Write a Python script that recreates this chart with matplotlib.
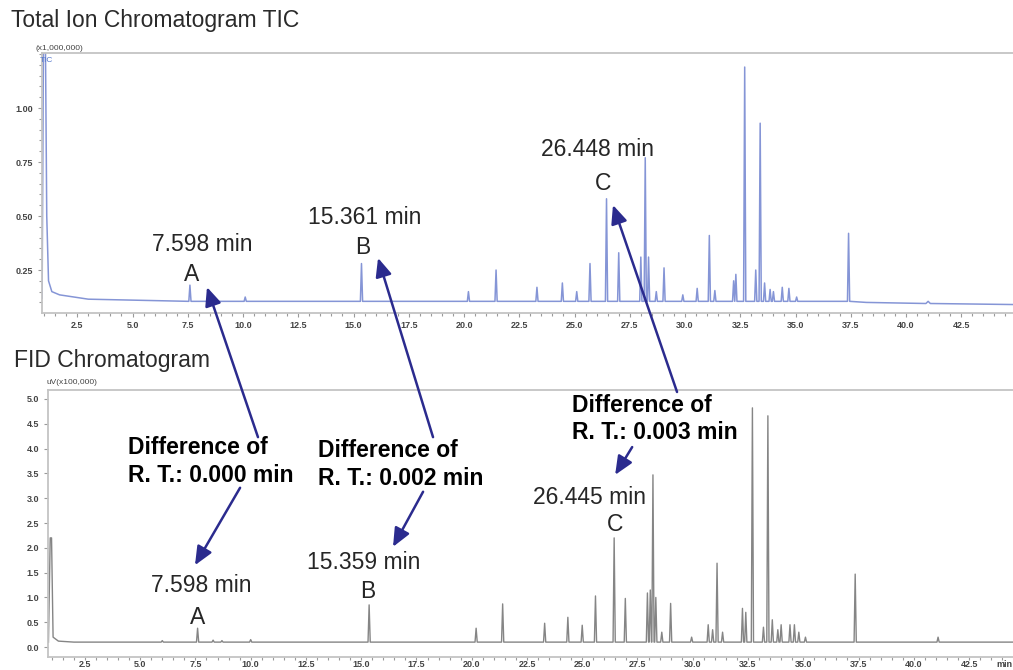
import matplotlib.pyplot as plt
from matplotlib.patches import ConnectionPatch
from matplotlib.ticker import MultipleLocator, FormatStrFormatter

plt.rcParams['font.family'] = ['Liberation Sans', 'DejaVu Sans']

# TIC trace (x1,000,000)
tic_head_t = [0.91, 0.97, 1.06, 1.12, 1.2, 1.35, 1.7, 3.0]
tic_head_v = [0.12, 1.30, 1.30, 0.50, 0.20, 0.15, 0.135, 0.115]
tic_rt = [7.598, 10.1, 15.361, 20.2, 21.45, 23.3, 24.45, 25.1, 25.7, 26.448,
          27.0, 28.0, 28.2, 28.35, 28.7, 29.05, 29.9, 30.55, 31.1, 31.35,
          32.2, 32.3, 32.7, 33.2, 33.4, 33.6, 33.85, 34.0, 34.4, 34.7, 35.05,
          37.4]
tic_h = [0.18, 0.125, 0.28, 0.15, 0.25, 0.17, 0.19, 0.15, 0.28, 0.58,
         0.33, 0.31, 0.77, 0.31, 0.15, 0.26, 0.135, 0.165, 0.41, 0.155,
         0.20, 0.23, 1.19, 0.25, 0.93, 0.19, 0.16, 0.15, 0.17, 0.165, 0.125,
         0.42]
tic_base = 0.105
tic_tail_t = [38.2, 40.9, 41.0, 41.1, 45.0]
tic_tail_v = [0.10, 0.095, 0.105, 0.095, 0.09]

# FID trace (uV x100,000)
fid_head_t = [0.85, 0.93, 0.99, 1.06, 1.3, 2.0]
fid_head_v = [0.10, 2.20, 2.20, 0.20, 0.12, 0.10]
fid_rt = [6.0, 7.598, 8.3, 8.7, 10.0, 15.359, 20.2, 21.4, 23.3, 24.35, 25.0,
          25.6, 26.445, 26.95, 27.95, 28.08, 28.2, 28.33, 28.6, 29.0, 29.95,
          30.7, 30.9, 31.1, 31.35, 32.25, 32.4, 32.7, 33.2, 33.4, 33.6, 33.85,
          34.0, 34.4, 34.6, 34.8, 35.1, 37.35, 41.1]
fid_h = [0.13, 0.38, 0.14, 0.13, 0.15, 0.85, 0.38, 0.87, 0.48, 0.60, 0.44,
         1.03, 2.20, 0.98, 1.09, 1.15, 3.47, 1.00, 0.30, 0.88, 0.20,
         0.45, 0.35, 1.69, 0.30, 0.78, 0.70, 4.82, 0.40, 4.66, 0.55, 0.35,
         0.45, 0.45, 0.45, 0.30, 0.20, 1.47, 0.20]
fid_base = 0.10
fid_tail_t = [42.0, 45.0]
fid_tail_v = [0.10, 0.10]

x_major = 2.5
tic_yticks = [0.25, 0.50, 0.75, 1.00]
fid_yticks = [0.0, 0.5, 1.0, 1.5, 2.0, 2.5, 3.0, 3.5, 4.0, 4.5, 5.0]


def trace(head_t, head_v, rt, h, base, tail_t, tail_v, w=0.05):
    x, y = list(head_t), list(head_v)
    for t, v in sorted(zip(rt, h)):
        x += [t - w, t, t + w]
        y += [base, v, base]
    return x + list(tail_t), y + list(tail_v)


def style_axis(ax, pad=3.0):
    for side in ['top', 'left', 'bottom']:
        ax.spines[side].set_color('#c4c4c4')
        ax.spines[side].set_linewidth(1.3)
    ax.spines['right'].set_visible(False)
    ax.xaxis.set_major_locator(MultipleLocator(x_major))
    ax.xaxis.set_minor_locator(MultipleLocator(0.5))
    ax.xaxis.set_major_formatter(FormatStrFormatter('%.1f'))
    ax.tick_params(which='both', colors='#9a9a9a', labelcolor='#444',
                   labelsize=6.5, length=3, width=0.8)
    ax.tick_params(which='minor', length=2)
    ax.tick_params(axis='x', pad=pad)
    for lab in ax.get_xticklabels() + ax.get_yticklabels():
        lab.set_fontweight('bold')


fig = plt.figure(figsize=(10.13, 6.70), dpi=100)

ax1 = fig.add_axes([42 / 1013, 1 - 313 / 670, 1 - 42 / 1013, 260 / 670])
x, y = trace(tic_head_t, tic_head_v, tic_rt, tic_h, tic_base, tic_tail_t, tic_tail_v)
ax1.plot(x, y, color='#8595d6', lw=1.1)
ax1.set_xlim(0.905, 44.84)
ax1.set_ylim(0.051, 1.255)
ax1.set_yticks(tic_yticks)
ax1.yaxis.set_minor_locator(MultipleLocator(0.05))
ax1.yaxis.set_major_formatter(FormatStrFormatter('%.2f'))
style_axis(ax1)

ax2 = fig.add_axes([48 / 1013, 1 - 657 / 670, 1 - 48 / 1013, 267 / 670])
x, y = trace(fid_head_t, fid_head_v, fid_rt, fid_h, fid_base, fid_tail_t, fid_tail_v)
ax2.plot(x, y, color='#858585', lw=1.0)
ax2.set_xlim(0.83, 44.49)
ax2.set_ylim(-0.2, 5.18)
ax2.set_yticks(fid_yticks)
ax2.yaxis.set_major_formatter(FormatStrFormatter('%.1f'))
style_axis(ax2, pad=0.5)
ax2.tick_params(axis='x', which='major', length=2)
ax2.text(0.999, -0.012, 'min', transform=ax2.transAxes,
         ha='right', va='top', fontsize=6.5, fontweight='bold', color='#444')

# titles and unit labels
fig.text(11 / 1013, 1 - 21 / 670, 'Total Ion Chromatogram TIC', fontsize=16.5,
         color='#2a2a2a', va='center')
fig.text(14 / 1013, 1 - 360 / 670, 'FID Chromatogram', fontsize=16.5,
         color='#2a2a2a', va='center')
fig.text(36 / 1013, 1 - 49 / 670, '(x1,000,000)', fontsize=6, color='#444',
         va='center')
fig.text(40 / 1013, 1 - 60 / 670, 'TIC', fontsize=6, color='#5577cc',
         va='center')
fig.text(46 / 1013, 1 - 383 / 670, 'uV(x100,000)', fontsize=6, color='#444',
         va='center')

# peak labels
lab = dict(fontsize=16.5, color='#262626', ha='center', va='center')
ax1.text(8.14, 0.366, '7.598 min', **lab)
ax1.text(7.69, 0.227, 'A', **lab)
ax1.text(15.52, 0.495, '15.361 min', **lab)
ax1.text(15.43, 0.356, 'B', **lab)
ax1.text(26.02, 0.806, '26.448 min', **lab)
ax1.text(26.29, 0.653, 'C', **lab)
ax2.text(7.75, 1.25, '7.598 min', **lab)
ax2.text(7.62, 0.60, 'A', **lab)
ax2.text(15.13, 1.71, '15.359 min', **lab)
ax2.text(15.31, 1.11, 'B', **lab)
ax2.text(25.35, 3.02, '26.445 min', **lab)
ax2.text(26.48, 2.46, 'C', **lab)

diff = dict(fontsize=16.5, fontweight='bold', color='black', ha='left',
            va='top', linespacing=1.25)
ax2.text(4.45, 4.25, 'Difference of\nR. T.: 0.000 min', **diff)
ax2.text(13.04, 4.19, 'Difference of\nR. T.: 0.002 min', **diff)
ax2.text(24.54, 5.10, 'Difference of\nR. T.: 0.003 min', **diff)

# arrows
arrow = dict(arrowstyle='-|>,head_length=0.8,head_width=0.35',
             mutation_scale=14, color='#2b2b8e', lw=1.8, shrinkA=0, shrinkB=0)
up = [((10.33, 4.23), (8.37, 0.171)),
      ((18.25, 4.23), (16.11, 0.306)),
      ((29.29, 5.14), (26.74, 0.551))]
for tail, tip in up:
    fig.add_artist(ConnectionPatch(tail, tip, coordsA=ax2.transData,
                                   coordsB=ax1.transData, **arrow))
down = [((9.52, 3.21), (7.48, 1.65)),
        ((17.8, 3.13), (16.44, 2.02)),
        ((27.26, 4.03), (26.49, 3.47))]
for tail, tip in down:
    fig.add_artist(ConnectionPatch(tail, tip, coordsA=ax2.transData,
                                   coordsB=ax2.transData, **arrow))

fig.savefig('out.png', dpi=100)
